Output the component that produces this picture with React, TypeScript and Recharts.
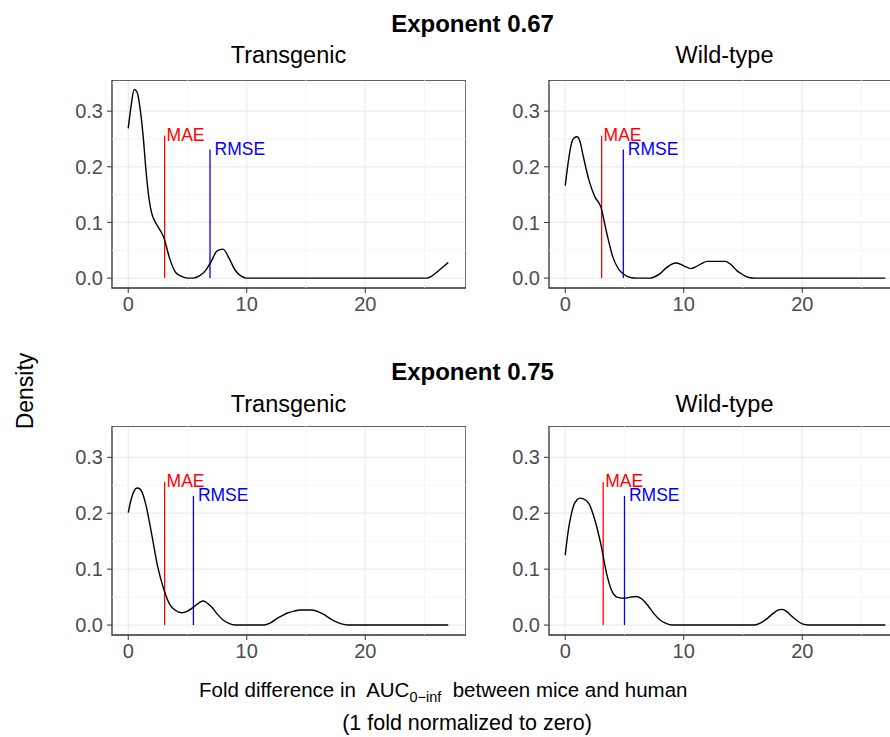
import { LineChart, Line, XAxis, YAxis, CartesianGrid, ReferenceLine, ReferenceArea } from 'recharts'

const tg067X = [0, 0.25, 0.5, 0.75, 1, 1.25, 1.5, 1.75, 2, 2.25, 2.5, 3, 3.5, 4, 4.5, 5, 5.5, 6, 6.5, 7, 7.5, 8, 8.5, 9, 9.5, 10, 25.2, 25.5, 26, 26.5, 27]
const tg067Y = [0.269, 0.311, 0.339, 0.334, 0.305, 0.257, 0.193, 0.143, 0.115, 0.102, 0.093, 0.073, 0.035, 0.01, 0.003, 0, 0, 0.004, 0.013, 0.03, 0.049, 0.052, 0.036, 0.015, 0.004, 0, 0, 0.002, 0.01, 0.019, 0.028]

const wt067X = [0, 0.25, 0.5, 0.75, 1, 1.25, 1.5, 2, 2.5, 3, 3.5, 4, 4.5, 5, 5.5, 6, 7.2, 7.5, 8, 8.5, 9, 9.4, 10, 10.6, 11, 11.5, 12, 13, 13.5, 14, 14.5, 15, 15.5, 16, 27]
const wt067Y = [0.166, 0.208, 0.24, 0.252, 0.254, 0.245, 0.221, 0.176, 0.146, 0.128, 0.081, 0.039, 0.016, 0.006, 0.001, 0, 0, 0.002, 0.008, 0.018, 0.025, 0.027, 0.022, 0.017, 0.02, 0.026, 0.03, 0.03, 0.03, 0.024, 0.013, 0.006, 0.001, 0, 0]

const tg075X = [0, 0.25, 0.5, 0.75, 1, 1.25, 1.5, 2, 2.5, 3, 3.5, 4, 4.5, 5, 5.5, 6, 6.3, 7, 7.5, 8, 8.5, 9, 11.5, 12, 12.5, 13, 13.5, 14, 14.5, 15, 15.5, 16, 16.5, 17, 17.5, 18, 18.5, 27]
const tg075Y = [0.201, 0.225, 0.24, 0.245, 0.243, 0.233, 0.214, 0.16, 0.103, 0.064, 0.037, 0.026, 0.022, 0.025, 0.032, 0.04, 0.043, 0.033, 0.02, 0.009, 0.003, 0, 0, 0.004, 0.011, 0.017, 0.022, 0.025, 0.027, 0.027, 0.027, 0.024, 0.019, 0.012, 0.006, 0.002, 0, 0]

const wt075X = [0, 0.25, 0.5, 0.75, 1, 1.25, 1.5, 2, 2.5, 3, 3.5, 4, 4.5, 5, 5.5, 6, 6.5, 7, 7.5, 8, 8.5, 9, 16, 16.5, 17, 17.5, 18, 18.3, 18.7, 19, 19.5, 20, 20.5, 27]
const wt075Y = [0.125, 0.168, 0.197, 0.216, 0.224, 0.227, 0.226, 0.217, 0.188, 0.145, 0.091, 0.058, 0.049, 0.048, 0.05, 0.051, 0.046, 0.034, 0.02, 0.009, 0.003, 0, 0, 0.004, 0.011, 0.02, 0.027, 0.028, 0.024, 0.018, 0.009, 0.002, 0, 0]

// MAE / RMSE markers per facet
const maeValues = [3.07, 3.07, 3.07, 3.2]
const rmseValues = [6.9, 4.9, 5.5, 5.0]
const maeTop = 0.256
const rmseTop = 0.231

const xTicks = [0, 10, 20]
const xMinor = [5, 15, 25]
const yTicks = [0, 0.1, 0.2, 0.3]
const yMinor = [0.05, 0.15, 0.25, 0.35]
const xDomain = [-1.37, 28.5]
const yDomain = [-0.0178, 0.356]

const FONT = '"Liberation Sans", Arial, sans-serif'
const Y_AXIS_W = 50
const X_AXIS_H = 40
const PLOT_W = 354

const zip = (xs: number[], ys: number[]) => xs.map((x, i) => ({ x, y: ys[i] }))

const tagLabel = (text: string, color: string, dx: number) => (props: any) => {
  const vb = props.viewBox
  if (!vb) return null
  return (
    <text x={vb.x + dx} y={vb.y} dy="0.31em" fill={color} fontSize={17.5} fontFamily={FONT}>
      {text}
    </text>
  )
}

const Panel = ({ data, mae, rmse, left, top, plotH }) => (
  <div style={{ position: 'absolute', left, top }}>
    <LineChart
      width={Y_AXIS_W + PLOT_W}
      height={plotH + X_AXIS_H}
      data={data}
      margin={{ top: 0, right: 0, bottom: 0, left: 0 }}
    >
      <CartesianGrid stroke="#EBEBEB" strokeWidth={1.2} />
      {xMinor.map((v) => (
        <ReferenceLine key={'mx' + v} x={v} stroke="#F2F2F2" strokeWidth={0.7} />
      ))}
      {yMinor.map((v) => (
        <ReferenceLine key={'my' + v} y={v} stroke="#F2F2F2" strokeWidth={0.7} />
      ))}
      <XAxis
        dataKey="x"
        type="number"
        domain={xDomain}
        ticks={xTicks}
        allowDataOverflow
        height={X_AXIS_H}
        axisLine={false}
        tickLine={{ stroke: '#333333' }}
        tickSize={5}
        tickMargin={4}
        tick={{ fill: '#4D4D4D', fontSize: 20 }}
      />
      <YAxis
        type="number"
        domain={yDomain}
        ticks={yTicks}
        allowDataOverflow
        width={Y_AXIS_W}
        axisLine={false}
        tickLine={{ stroke: '#333333' }}
        tickSize={5}
        tickMargin={4}
        tick={{ fill: '#4D4D4D', fontSize: 20 }}
        tickFormatter={(v) => v.toFixed(1)}
      />
      <ReferenceLine
        segment={[{ x: mae, y: 0 }, { x: mae, y: maeTop }]}
        stroke="#FF0000"
        strokeWidth={1.3}
        label={tagLabel('MAE', '#FF0000', 2)}
      />
      <ReferenceLine
        segment={[{ x: rmse, y: 0 }, { x: rmse, y: rmseTop }]}
        stroke="#0000FF"
        strokeWidth={1.3}
        label={tagLabel('RMSE', '#0000FF', 4.5)}
      />
      <Line
        type="monotone"
        dataKey="y"
        stroke="#000000"
        strokeWidth={1.4}
        dot={false}
        activeDot={false}
        isAnimationActive={false}
      />
      <ReferenceArea
        x1={xDomain[0]}
        x2={xDomain[1]}
        y1={yDomain[0]}
        y2={yDomain[1]}
        fill="none"
        fillOpacity={0}
        stroke="#333333"
        strokeWidth={1.3}
      />
    </LineChart>
  </div>
)

const centered = (x: number, y: number, extra = {}) => ({
  position: 'absolute' as const,
  left: x,
  top: y,
  transform: 'translate(-50%, -50%)',
  lineHeight: 1,
  whiteSpace: 'nowrap' as const,
  color: '#000',
  ...extra,
})

export default function App() {
  return (
    <div
      style={{
        position: 'absolute',
        left: 0,
        top: 0,
        width: 890,
        height: 737,
        overflow: 'hidden',
        background: '#fff',
        fontFamily: FONT,
      }}
    >
      <div style={centered(472.5, 24, { fontSize: 24, fontWeight: 'bold' })}>Exponent 0.67</div>
      <div style={centered(288.5, 56, { fontSize: 23.5 })}>Transgenic</div>
      <div style={centered(724.5, 56, { fontSize: 23.5 })}>Wild-type</div>

      <div style={centered(472.5, 372, { fontSize: 24, fontWeight: 'bold' })}>Exponent 0.75</div>
      <div style={centered(288.5, 405, { fontSize: 23.5 })}>Transgenic</div>
      <div style={centered(724.5, 405, { fontSize: 23.5 })}>Wild-type</div>

      <div style={centered(25, 391, { fontSize: 23, transform: 'translate(-50%, -50%) rotate(-90deg)' })}>
        Density
      </div>

      <Panel data={zip(tg067X, tg067Y)} mae={maeValues[0]} rmse={rmseValues[0]} left={62} top={80} plotH={208} />
      <Panel data={zip(wt067X, wt067Y)} mae={maeValues[1]} rmse={rmseValues[1]} left={499.3} top={80} plotH={208} />
      <Panel data={zip(tg075X, tg075Y)} mae={maeValues[2]} rmse={rmseValues[2]} left={62} top={426} plotH={209} />
      <Panel data={zip(wt075X, wt075Y)} mae={maeValues[3]} rmse={rmseValues[3]} left={499.3} top={426} plotH={209} />

      <div style={{ position: 'absolute', left: 199, top: 690, transform: 'translateY(-50%)', fontSize: 20.5, lineHeight: 1, whiteSpace: 'nowrap' }}>
        Fold difference in&nbsp; AUC
        <span style={{ fontSize: 14.5, position: 'relative', top: 5 }}>0−inf</span>
        &nbsp; between mice and human
      </div>
      <div style={centered(467, 724, { fontSize: 21.5 })}>(1 fold normalized to zero)</div>
    </div>
  )
}
